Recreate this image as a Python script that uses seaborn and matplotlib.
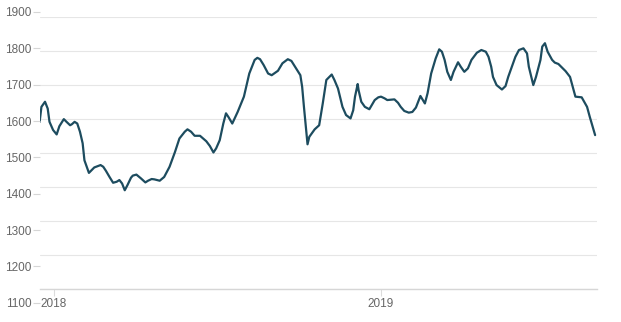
import matplotlib
matplotlib.use("Agg")
import matplotlib.pyplot as plt
import seaborn as sns
import pandas as pd

dates = [
    "2017-12-16", "2017-12-18", "2017-12-22", "2017-12-25", "2017-12-27", "2017-12-31",
    "2018-01-04", "2018-01-07", "2018-01-12", "2018-01-15", "2018-01-19", "2018-01-21",
    "2018-01-24", "2018-01-27", "2018-01-30", "2018-02-02", "2018-02-04", "2018-02-09",
    "2018-02-12", "2018-02-15", "2018-02-22", "2018-02-25", "2018-02-28", "2018-03-04",
    "2018-03-08", "2018-03-12", "2018-03-15", "2018-03-18", "2018-03-21", "2018-03-24",
    "2018-03-28", "2018-03-30", "2018-04-03", "2018-04-08", "2018-04-13", "2018-04-16",
    "2018-04-20", "2018-04-23", "2018-04-29", "2018-05-04", "2018-05-10", "2018-05-16",
    "2018-05-21", "2018-05-27", "2018-05-30", "2018-06-03", "2018-06-07", "2018-06-13",
    "2018-06-20", "2018-06-24", "2018-06-28", "2018-07-01", "2018-07-05", "2018-07-09",
    "2018-07-12", "2018-07-15", "2018-07-19", "2018-07-25", "2018-08-01", "2018-08-07",
    "2018-08-13", "2018-08-16", "2018-08-19", "2018-08-23", "2018-08-28", "2018-09-01",
    "2018-09-08", "2018-09-13", "2018-09-19", "2018-09-23", "2018-09-27", "2018-10-03",
    "2018-10-05", "2018-10-07", "2018-10-11", "2018-10-13", "2018-10-19", "2018-10-24",
    "2018-10-28", "2018-11-01", "2018-11-07", "2018-11-10", "2018-11-14", "2018-11-19",
    "2018-11-23", "2018-11-28", "2018-12-01", "2018-12-03", "2018-12-06", "2018-12-07",
    "2018-12-10", "2018-12-14", "2018-12-19", "2018-12-25", "2018-12-29", "2019-01-01",
    "2019-01-05", "2019-01-08", "2019-01-16", "2019-01-20", "2019-01-23", "2019-01-27",
    "2019-02-01", "2019-02-05", "2019-02-09", "2019-02-14", "2019-02-19", "2019-02-22",
    "2019-02-26", "2019-03-03", "2019-03-07", "2019-03-10", "2019-03-13", "2019-03-16",
    "2019-03-20", "2019-03-23", "2019-03-28", "2019-03-31", "2019-04-04", "2019-04-08",
    "2019-04-12", "2019-04-18", "2019-04-23", "2019-04-28", "2019-05-01", "2019-05-04",
    "2019-05-06", "2019-05-10", "2019-05-16", "2019-05-20", "2019-05-23", "2019-05-31",
    "2019-06-04", "2019-06-09", "2019-06-13", "2019-06-15", "2019-06-20", "2019-06-23",
    "2019-06-28", "2019-06-30", "2019-07-03", "2019-07-06", "2019-07-11", "2019-07-14",
    "2019-07-18", "2019-07-26", "2019-07-31", "2019-08-06", "2019-08-13", "2019-08-19",
    "2019-08-22", "2019-08-28",
]
values = [
    1592, 1636, 1651, 1631, 1592, 1568,
    1555, 1579, 1600, 1592, 1582, 1585,
    1592, 1587, 1563, 1529, 1479, 1442,
    1450, 1458, 1465, 1460, 1448, 1430,
    1413, 1416, 1421, 1411, 1391, 1406,
    1428, 1434, 1437, 1426, 1414, 1419,
    1424, 1423, 1419, 1430, 1460, 1503,
    1543, 1563, 1570, 1563, 1551, 1551,
    1535, 1521, 1502, 1514, 1538, 1587,
    1617, 1605, 1587, 1621, 1666, 1734,
    1774, 1780, 1776, 1759, 1734, 1729,
    1742, 1764, 1776, 1771, 1754, 1729,
    1695, 1636, 1526, 1548, 1570, 1582,
    1646, 1715, 1731, 1715, 1690, 1636,
    1612, 1602, 1626, 1666, 1703, 1685,
    1651, 1636, 1629, 1656, 1664, 1666,
    1661, 1656, 1658, 1648, 1636, 1624,
    1619, 1621, 1634, 1668, 1646, 1676,
    1734, 1778, 1805, 1798, 1774, 1739,
    1715, 1739, 1767, 1754, 1739, 1749,
    1774, 1795, 1803, 1798, 1783, 1754,
    1724, 1700, 1687, 1697, 1724, 1783,
    1803, 1808, 1793, 1754, 1700, 1724,
    1774, 1813, 1823, 1798, 1774, 1766,
    1762, 1741, 1724, 1666, 1664, 1636,
    1607, 1553,
]
y_ticks = [1100, 1200, 1300, 1400, 1500, 1600, 1700, 1800, 1900]
x_tick_dates = ["2018-01-01", "2019-01-01"]
x_tick_labels = ["2018", "2019"]

df = pd.DataFrame({"date": pd.to_datetime(dates), "value": values})

sns.set_theme(style="white")
plt.rcParams["font.family"] = ["Liberation Sans", "DejaVu Sans"]

W, H = 621, 322
fig = plt.figure(figsize=(W / 100, H / 100), dpi=100)

# main plot area
ax = fig.add_axes([40 / W, (H - 289.3) / H, 557 / W, 272.3 / H])
line_kw = dict(solid_joinstyle="round", solid_capstyle="round")
sns.lineplot(data=df, x="date", y="value", ax=ax, color="#1d4c5f", linewidth=1.6, **line_kw)

t0 = pd.Timestamp("2018-01-01")
ax.set_xlim(t0 - pd.Timedelta(days=15.6), t0 + pd.Timedelta(days=606.1))
ax.set_ylim(y_ticks[0], y_ticks[-1])
ax.set_yticks(y_ticks)
ax.yaxis.grid(True, color="#e6e6e6", linewidth=0.8)
ax.tick_params(axis="y", left=False, labelleft=False)
ax.set_xticks(pd.to_datetime(x_tick_dates))
ax.set_xticklabels(x_tick_labels)
ax.tick_params(axis="x", bottom=True, length=5, width=0.8, color="#dcdcdc",
               labelsize=8.5, labelcolor="#666666", pad=1.5)
for s in ["top", "right", "left"]:
    ax.spines[s].set_visible(False)
ax.spines["bottom"].set_color("#d6d6d6")
ax.spines["bottom"].set_linewidth(1.0)
ax.set_xlabel("")
ax.set_ylabel("")

# y-axis labels (drawn on their own scale as in the reference)
lab = fig.add_axes([40 / W, (H - 302.7) / H, 557 / W, (302.7 - 12) / H])
lab.patch.set_alpha(0)
lab.set_ylim(y_ticks[0], y_ticks[-1])
lab.set_yticks(y_ticks)
lab.set_yticklabels([str(v) for v in y_ticks])
lab.set_xticks([])
lab.tick_params(axis="y", left=True, length=5, width=0.8, color="#d6d6d6",
                labelsize=8.5, labelcolor="#666666", pad=1)
for s in lab.spines.values():
    s.set_visible(False)

fig.savefig("out.png", dpi=100)
